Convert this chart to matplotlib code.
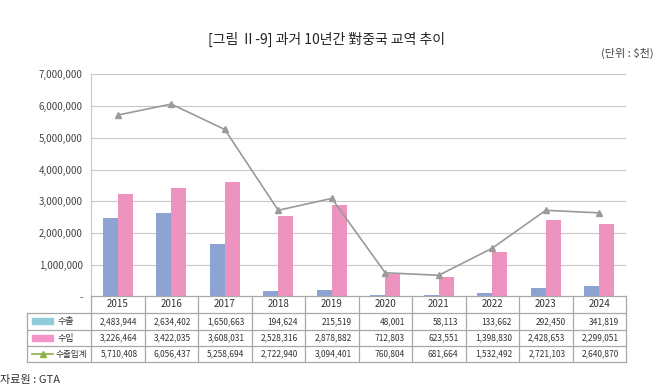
import matplotlib
matplotlib.use("Agg")
import matplotlib.pyplot as plt
from matplotlib.patches import Rectangle
import numpy as np

plt.rcParams['font.family'] = ['Noto Sans CJK KR', 'DejaVu Sans']

years = ['2015', '2016', '2017', '2018', '2019', '2020', '2021', '2022', '2023', '2024']
exports = [2483944, 2634402, 1650663, 194624, 215519, 48001, 58113, 133662, 292450, 341819]
imports = [3226464, 3422035, 3608031, 2528316, 2878882, 712803, 623551, 1398830, 2428653, 2299051]
totals = [5710408, 6056437, 5258694, 2722940, 3094401, 760804, 681664, 1532492, 2721103, 2640870]
series_names = ['수출', '수입', '수출입계']
yticks = [0, 1000000, 2000000, 3000000, 4000000, 5000000, 6000000, 7000000]

W, H = 670, 388
fig = plt.figure(figsize=(W / 100, H / 100), dpi=100)

def fx(px):
    return px / W

def fy(py):
    return 1 - py / H

L, R, T, B = 91, 626, 74, 297
ax = fig.add_axes([fx(L), fy(B), fx(R - L), fy(T) - fy(B)])
n = len(years)
x = np.arange(n)
bw = 0.28
c_exp = '#8da4d3'
c_imp = '#ee93bf'
c_line = '#9a9a9a'
ax.bar(x - bw / 2, exports, bw, color=c_exp, zorder=3)
ax.bar(x + bw / 2, imports, bw, color=c_imp, zorder=3)
ax.plot(x, totals, color=c_line, lw=1.2, marker='^', ms=4, zorder=4)
ax.set_xlim(-0.5, n - 0.5)
ax.set_ylim(0, 7000000)
ax.set_yticks(yticks)
ax.set_yticklabels(['-' if v == 0 else f'{v:,}' for v in yticks], fontsize=7, color='#444444')
ax.set_xticks([])
ax.grid(axis='y', color='#c8c8c8', lw=0.8, zorder=0)
for s in ['top', 'right', 'bottom']:
    ax.spines[s].set_visible(False)
ax.spines['left'].set_color('#c8c8c8')
ax.tick_params(axis='y', length=0, pad=6)

# table
TL, TT, TB = 27, 296, 362
tax = fig.add_axes([fx(TL), fy(TB), fx(R - TL), fy(TT) - fy(TB)])
tax.set_xlim(TL, R)
tax.set_ylim(TB, TT)
tax.axis('off')
gc = '#a8a8a8'
rows_y = [296, 313, 330, 346, 362]
colw = (R - L) / n
tax.plot([L, R], [296, 296], color=gc, lw=0.9, clip_on=False)
for yy in rows_y[1:]:
    tax.plot([TL, R], [yy, yy], color=gc, lw=0.9, clip_on=False)
tax.plot([TL, TL], [313, 362], color=gc, lw=0.9, clip_on=False)
for k in range(n + 1):
    xx = L + k * colw
    tax.plot([xx, xx], [296, 362], color=gc, lw=0.9, clip_on=False)

for k, yr in enumerate(years):
    tax.text(L + (k + 0.5) * colw, 304.5, yr, ha='center', va='center', fontsize=7, color='#333333')
data_rows = [exports, imports, totals]
for r, vals in enumerate(data_rows):
    yc = (rows_y[r + 1] + rows_y[r + 2]) / 2
    for k, v in enumerate(vals):
        tax.text(L + (k + 1) * colw - 7, yc, f'{v:,}', ha='right', va='center', fontsize=6, color='#333333')

# legend cells
yc0 = (313 + 330) / 2
tax.add_patch(Rectangle((32, yc0 - 3), 21, 6, color='#8ecbdb', clip_on=False))
tax.text(57, yc0, series_names[0], ha='left', va='center', fontsize=6.5, color='#333333')
yc1 = (330 + 346) / 2
tax.add_patch(Rectangle((32, yc1 - 3), 21, 6, color='#f394c8', clip_on=False))
tax.text(57, yc1, series_names[1], ha='left', va='center', fontsize=6.5, color='#333333')
yc2 = (346 + 362) / 2
tax.plot([32, 53], [yc2, yc2], color='#8fae4e', lw=1.2, clip_on=False)
tax.plot([42.5], [yc2], marker='^', color='#8fae4e', ms=4, clip_on=False)
tax.text(56, yc2, series_names[2], ha='left', va='center', fontsize=6.2, color='#333333')

fig.text(fx(327), fy(39), '[그림 Ⅱ-9] 과거 10년간 對중국 교역 추이', ha='center', va='center', fontsize=10, color='#222222')
fig.text(fx(654), fy(53), '(단위 : $천)', ha='right', va='center', fontsize=8, color='#444444')
fig.text(fx(0), fy(380), '자료원 : GTA', ha='left', va='center', fontsize=8, color='#333333')

fig.savefig('out.png', dpi=100)
